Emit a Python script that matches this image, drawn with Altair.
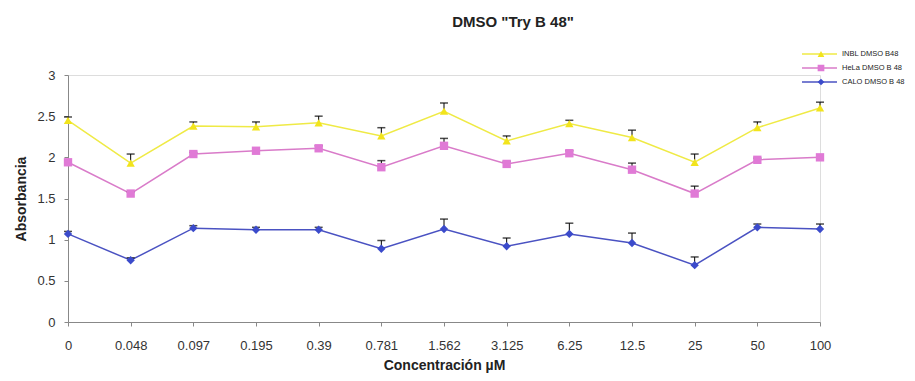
import altair as alt
import pandas as pd

conc = ["0", "0.048", "0.097", "0.195", "0.39", "0.781", "1.562",
        "3.125", "6.25", "12.5", "25", "50", "100"]
series = ["INBL DMSO B48", "HeLa DMSO B 48", "CALO DMSO B 48"]

inbl = [2.45, 1.93, 2.38, 2.37, 2.42, 2.26, 2.56, 2.20, 2.41, 2.24, 1.94, 2.36, 2.60]
hela = [1.94, 1.56, 2.04, 2.08, 2.11, 1.88, 2.14, 1.92, 2.05, 1.85, 1.56, 1.97, 2.00]
calo = [1.07, 0.75, 1.14, 1.12, 1.12, 0.89, 1.13, 0.92, 1.07, 0.96, 0.69, 1.15, 1.13]

inbl_err = [0.04, 0.11, 0.05, 0.06, 0.08, 0.10, 0.10, 0.06, 0.04, 0.09, 0.10, 0.07, 0.07]
hela_err = [0.02, 0.02, 0.02, 0.02, 0.03, 0.08, 0.09, 0.03, 0.03, 0.08, 0.09, 0.02, 0.02]
calo_err = [0.03, 0.03, 0.03, 0.03, 0.03, 0.10, 0.12, 0.10, 0.13, 0.12, 0.10, 0.04, 0.06]

line_colors = ["#EFEA45", "#D97BC9", "#4A52C2"]
marker_colors = ["#F2E41C", "#E07AD6", "#3B4BCB"]
shapes = ["triangle-up", "square", "diamond"]

rows = []
for name, vals, errs in zip(series, [inbl, hela, calo], [inbl_err, hela_err, calo_err]):
    for c, v, e in zip(conc, vals, errs):
        rows.append({"conc": c, "series": name, "line_series": name,
                     "value": v, "top": round(v + e, 3)})
df = pd.DataFrame(rows)

FONT = "Liberation Sans"

x_enc = alt.X(
    "conc:O", sort=conc,
    scale=alt.Scale(type="point", padding=0),
    title="Concentración µM",
    axis=alt.Axis(labelAngle=0, labelFontSize=13, labelColor="#333", labelFont=FONT,
                  titleFont=FONT, titleFontSize=14, titleFontWeight="bold", titleColor="#222",
                  domainColor="#888", tickColor="#888", tickSize=4, labelPadding=13,
                  titlePadding=6, grid=False),
)
y_axis = alt.Axis(values=[0, 0.5, 1, 1.5, 2, 2.5, 3], format="~g", labelFontSize=13,
                  labelColor="#333", labelFont=FONT, titleFont=FONT, titleFontSize=14,
                  titleFontWeight="bold", titleColor="#222", domainColor="#888",
                  tickColor="#888", tickSize=4, labelPadding=9, titlePadding=8, grid=False)
y_scale = alt.Scale(domain=[0, 3], nice=False)

leg_common = dict(orient="none", legendY=-27, title=None, labelFont=FONT,
                  labelColor="#222", padding=0, clipHeight=12, rowPadding=2, labelOffset=4)

line_legend = alt.Legend(legendX=733, symbolType="stroke", symbolSize=1225,
                         symbolStrokeWidth=1.5, labelFontSize=7.5, **leg_common)
point_legend = alt.Legend(legendX=748.5, symbolSize=45, labelExpr="''", labelFontSize=1,
                          **leg_common)

lines = alt.Chart(df).mark_line(strokeWidth=1.5).encode(
    x=x_enc,
    y=alt.Y("value:Q", scale=y_scale, axis=y_axis, title="Absorbancia"),
    stroke=alt.Stroke("line_series:N", sort=series,
                      scale=alt.Scale(range=line_colors), legend=line_legend),
)

rules = alt.Chart(df).mark_rule(color="black", strokeWidth=1).encode(
    x=x_enc,
    y=alt.Y("value:Q", scale=y_scale, axis=y_axis, title="Absorbancia"),
    y2="top:Q",
)

caps = alt.Chart(df).mark_tick(color="black", size=8, thickness=1.5).encode(
    x=x_enc,
    y=alt.Y("top:Q", scale=y_scale, axis=y_axis, title="Absorbancia"),
)

points = alt.Chart(df).mark_point(filled=True, size=70, opacity=1).encode(
    x=x_enc,
    y=alt.Y("value:Q", scale=y_scale, axis=y_axis, title="Absorbancia"),
    color=alt.Color("series:N", sort=series,
                    scale=alt.Scale(domain=series, range=marker_colors), legend=point_legend),
    shape=alt.Shape("series:N", sort=series,
                    scale=alt.Scale(domain=series, range=shapes), legend=point_legend),
)

chart = alt.layer(lines, rules, caps, points).properties(
    width=752, height=247,
    title=alt.TitleParams('DMSO "Try B 48"', fontSize=15, fontWeight="bold", font=FONT,
                          color="#222", anchor="middle", frame="group", dx=69, offset=18),
    autosize=alt.AutoSizeParams(type="none"),
    padding={"left": 60, "top": 67, "right": 87, "bottom": 59},
).configure_view(stroke=None).configure(background="white")

chart.save("out.html", embed_options={"renderer": "svg", "actions": False})
